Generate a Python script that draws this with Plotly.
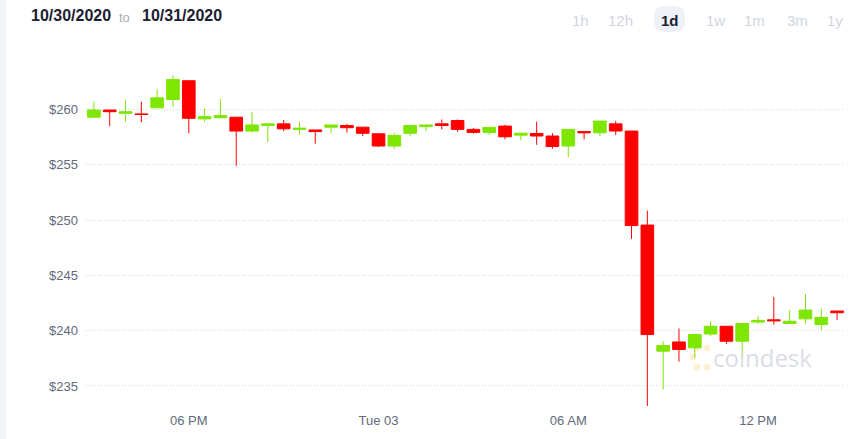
import plotly.graph_objects as go
import pandas as pd

# ---------------- data ----------------
times = list(pd.date_range("2020-11-02 15:00", periods=48, freq="30min"))
opens = [259.3, 259.95, 259.65, 259.6, 260.15, 260.9, 262.6, 259.15, 259.25, 259.3,
         258.05, 258.55, 258.7, 258.2, 258.15, 258.4, 258.55, 258.4, 257.8, 256.7,
         257.85, 258.45, 258.7, 259.0, 258.2, 257.93, 258.5, 257.68, 257.83, 257.6,
         256.7, 258.0, 257.9, 258.7, 258.05, 249.55, 238.15, 238.98, 238.45, 239.7,
         240.4, 239.05, 240.78, 240.98, 240.65, 241.07, 240.56, 241.78]
highs = [260.7, 259.95, 260.85, 260.7, 261.8, 263.1, 262.6, 260.1, 260.95, 259.3,
         259.75, 258.7, 259.05, 258.9, 258.15, 258.6, 258.7, 258.4, 257.85, 257.85,
         258.55, 258.6, 259.1, 259.1, 258.32, 258.38, 258.62, 257.86, 258.9, 257.85,
         258.2, 258.0, 258.95, 258.95, 258.05, 250.86, 239.05, 240.2, 239.66, 240.86,
         240.4, 240.65, 241.3, 243.05, 241.85, 243.3, 242.0, 241.78]
lows = [259.3, 258.5, 258.9, 258.85, 260.15, 260.25, 257.85, 258.9, 259.25, 254.9,
        257.9, 257.05, 258.05, 257.7, 256.9, 257.85, 257.9, 257.6, 256.6, 256.45,
        257.6, 258.05, 258.2, 257.98, 257.83, 257.7, 257.3, 257.2, 256.8, 256.45,
        255.7, 257.3, 257.6, 257.7, 248.3, 233.1, 234.7, 237.2, 237.55, 239.5,
        238.8, 237.7, 240.6, 240.55, 240.65, 240.65, 240.05, 240.95]
closes = [259.95, 259.8, 259.8, 259.55, 261.05, 262.7, 259.2, 259.35, 259.45, 258.05,
          258.6, 258.7, 258.25, 258.3, 258.0, 258.6, 258.35, 257.85, 256.7, 257.65,
          258.55, 258.6, 258.55, 258.2, 257.93, 258.38, 257.53, 257.86, 257.6, 256.65,
          258.2, 257.9, 258.95, 258.05, 249.5, 239.65, 238.65, 238.3, 239.66, 240.4,
          239.05, 240.65, 240.93, 240.9, 240.85, 241.86, 241.2, 241.62]

x_tick_vals = ["2020-11-02 18:00", "2020-11-03 00:00", "2020-11-03 06:00", "2020-11-03 12:00"]
x_tick_text = ["06 PM", "Tue 03", "06 AM", "12 PM"]
y_tick_vals = [235, 240, 245, 250, 255, 260]
y_tick_text = ["$235", "$240", "$245", "$250", "$255", "$260"]
range_buttons = ["1h", "12h", "1d", "1w", "1m", "3m", "1y"]
date_from = "10/30/2020"
date_to = "10/31/2020"

# ---------------- styling ----------------
W, H = 863, 439
ML, MR, MT, MB = 86, 18, 60, 33
PW, PH = W - ML - MR, H - MT - MB
GREEN = "#7ee600"
RED = "#ff0000"
TICK_COLOR = "#5f6a7b"
FONT = "Liberation Sans, Arial, sans-serif"


def px(x):
    return (x - ML) / PW


def py(y):
    return (H - MB - y) / PH


fig = go.Figure()
fig.add_trace(go.Candlestick(
    x=times, open=opens, high=highs, low=lows, close=closes,
    increasing=dict(line=dict(color=GREEN, width=1), fillcolor=GREEN),
    decreasing=dict(line=dict(color=RED, width=1), fillcolor=RED),
    whiskerwidth=0, showlegend=False, hoverinfo="skip",
))

half = pd.Timedelta(minutes=15)
fig.update_layout(
    width=W, height=H,
    margin=dict(l=ML, r=MR, t=MT, b=MB, pad=0),
    paper_bgcolor="white", plot_bgcolor="white",
    boxgap=0.2, boxgroupgap=0,
    font=dict(family=FONT, size=13, color=TICK_COLOR),
    xaxis=dict(
        type="date", range=[times[0] - half, times[-1] + half],
        rangeslider=dict(visible=False), showgrid=False, zeroline=False,
        showline=False, ticks="", tickmode="array", tickvals=x_tick_vals,
        ticktext=x_tick_text, tickfont=dict(size=13, color=TICK_COLOR),
        ticklabelstandoff=5,
    ),
    yaxis=dict(
        range=[233.19, 233.19 + PH / 11.06], showgrid=True, gridcolor="#cdd6e6",
        griddash="1px,2px", gridwidth=1, zeroline=False, showline=False, ticks="",
        tickmode="array", tickvals=y_tick_vals, ticktext=y_tick_text,
        tickfont=dict(size=13, color=TICK_COLOR), ticklabelstandoff=7,
    ),
)

shapes = []
# left light strip
shapes.append(dict(type="rect", xref="paper", yref="paper", x0=px(0), x1=px(6),
                   y0=py(H), y1=py(0), fillcolor="#f0f3f8", line=dict(width=0),
                   layer="below"))
# pill behind the selected range button
x0, x1, y0, y1, r = 654, 685, 6, 32, 11
path = (f"M {px(x0 + r)} {py(y0)} L {px(x1 - r)} {py(y0)} "
        f"Q {px(x1)} {py(y0)} {px(x1)} {py(y0 + r)} L {px(x1)} {py(y1 - r)} "
        f"Q {px(x1)} {py(y1)} {px(x1 - r)} {py(y1)} L {px(x0 + r)} {py(y1)} "
        f"Q {px(x0)} {py(y1)} {px(x0)} {py(y1 - r)} L {px(x0)} {py(y0 + r)} "
        f"Q {px(x0)} {py(y0)} {px(x0 + r)} {py(y0)} Z")
shapes.append(dict(type="path", xref="paper", yref="paper", path=path,
                   fillcolor="#eef2f8", line=dict(width=0)))
# watermark icon (faint dotted bracket)
for (cx, cy) in [(707, 348), (697, 348), (693, 357), (697, 367), (707, 367)]:
    shapes.append(dict(type="circle", xref="paper", yref="paper",
                       x0=px(cx - 3.5), x1=px(cx + 3.5), y0=py(cy + 3.5), y1=py(cy - 3.5),
                       fillcolor="#fdf1d2", line=dict(width=0), layer="below"))
fig.update_layout(shapes=shapes)

ann = []
ann.append(dict(text=f"<b>{date_from}</b>", x=px(29), y=py(16), xref="paper", yref="paper",
                xanchor="left", yanchor="middle", showarrow=False,
                font=dict(family=FONT, size=16, color="#1b2030")))
ann.append(dict(text="to", x=px(117), y=py(17), xref="paper", yref="paper",
                xanchor="left", yanchor="middle", showarrow=False,
                font=dict(family=FONT, size=13, color="#a6acb9")))
ann.append(dict(text=f"<b>{date_to}</b>", x=px(140), y=py(16), xref="paper", yref="paper",
                xanchor="left", yanchor="middle", showarrow=False,
                font=dict(family=FONT, size=16, color="#1b2030")))
btn_x = [580, 620, 670, 715, 754, 797, 835]
for label, bx in zip(range_buttons, btn_x):
    sel = label == "1d"
    ann.append(dict(text=f"<b>{label}</b>" if sel else label, x=px(bx), y=py(20),
                    xref="paper", yref="paper", xanchor="center", yanchor="middle",
                    showarrow=False,
                    font=dict(family=FONT, size=15, color="#1b2030" if sel else "#cfd4de")))
ann.append(dict(text="coindesk", x=px(762), y=py(357), xref="paper", yref="paper",
                xanchor="center", yanchor="middle", showarrow=False,
                font=dict(family="Open Sans, sans-serif", size=24, color="#d9dde4")))
fig.update_layout(annotations=ann)

fig.write_html("out.html")
